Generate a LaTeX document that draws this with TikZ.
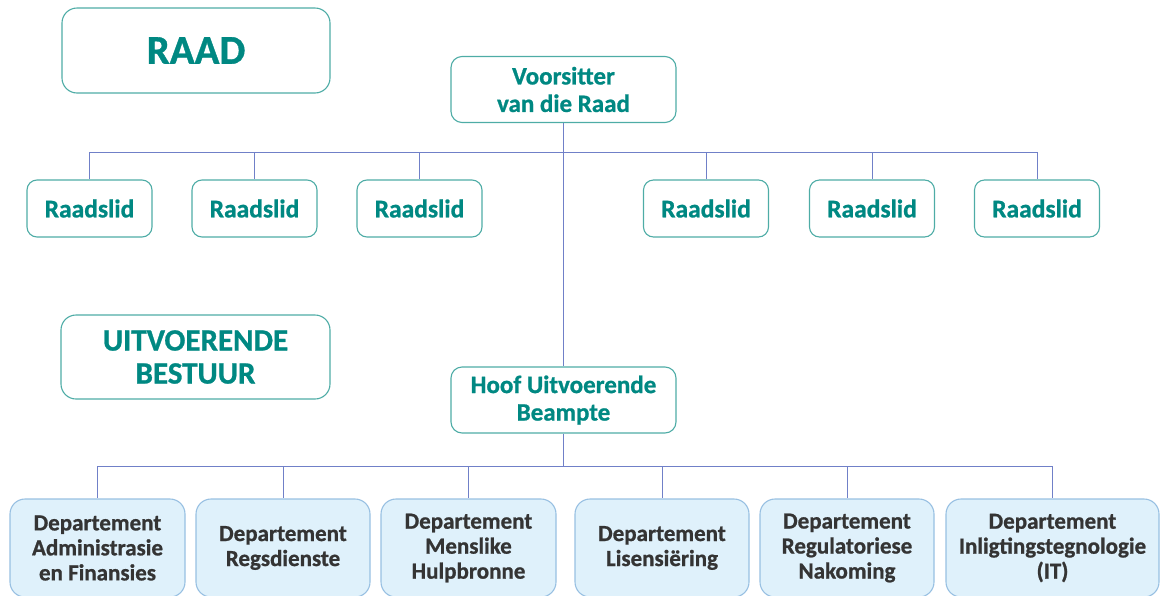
\documentclass[tikz,border=0pt]{standalone}
\usepackage{fontspec}
\setmainfont{Carlito}[BoldFeatures={FakeBold=0.9}]
\usepackage{tikz}
\usetikzlibrary{positioning}
\definecolor{raadteal}{RGB}{0,136,130}
\definecolor{raadedge}{RGB}{78,172,166}
\definecolor{linkblue}{RGB}{112,128,200}
\definecolor{deptfill}{RGB}{223,241,251}
\definecolor{deptedge}{RGB}{152,192,226}
\definecolor{depttext}{RGB}{52,52,52}

\begin{document}
\begin{tikzpicture}[
x=1pt, y=-1pt,
title/.style={draw=raadedge, line width=1.1pt, rounded corners=15pt, text=raadteal, align=center, inner sep=0pt},
chief/.style={draw=raadedge, line width=1.1pt, rounded corners=11pt, text=raadteal, align=center, inner sep=0pt, minimum width=225pt, minimum height=66pt, font=\fontsize{25}{27.5}\selectfont\bfseries},
member/.style={draw=raadedge, line width=1.1pt, rounded corners=10pt, text=raadteal, inner sep=0pt, minimum width=125pt, minimum height=57pt, font=\fontsize{25.5}{27}\selectfont\bfseries},
dept/.style={draw=deptedge, fill=deptfill, line width=1.1pt, rounded corners=15pt, text=depttext, align=center, inner sep=0pt, minimum height=98pt, font=\fontsize{23}{25}\selectfont\bfseries},
link/.style={draw=linkblue, line width=0.9pt}
]
\useasboundingbox (0,0) rectangle (1160,595);

% Raad
\node[title, minimum width=268pt, minimum height=85pt, font=\fontsize{41}{42}\selectfont\bfseries] (raad) at (196,50.5) {RAAD};
\node[chief] (chair) at (563.5,89.5) {Voorsitter\\van die Raad};

\node[member] (r1) at (89.5,208.5) {Raadslid};
\node[member] (r2) at (254.5,208.5) {Raadslid};
\node[member] (r3) at (419.5,208.5) {Raadslid};
\node[member] (r4) at (706,208.5) {Raadslid};
\node[member] (r5) at (872,208.5) {Raadslid};
\node[member] (r6) at (1037,208.5) {Raadslid};

% Uitvoerende bestuur
\node[title, minimum width=269pt, minimum height=84pt, font=\fontsize{31}{33}\selectfont\bfseries] (bestuur) at (195.5,357) {UITVOERENDE\\BESTUUR};
\node[chief] (ceo) at (563.5,400) {Hoof Uitvoerende\\Beampte};

\node[dept, minimum width=175pt] (d1) at (97.5,548) {Departement\\Administrasie\\en Finansies};
\node[dept, minimum width=174pt] (d2) at (283,548) {Departement\\Regsdienste};
\node[dept, minimum width=175pt] (d3) at (468.5,548) {Departement\\Menslike\\Hulpbronne};
\node[dept, minimum width=174pt] (d4) at (662,548) {Departement\\Lisensiëring};
\node[dept, minimum width=174pt] (d5) at (847,548) {Departement\\Regulatoriese\\Nakoming};
\node[dept, minimum width=213pt] (d6) at (1052.5,548) {Departement\\Inligtingstegnologie\\(IT)};

% Connectors
\draw (chair.south) ++(0,29) coordinate (bar1);
\draw (ceo.south) ++(0,33) coordinate (bar2);
\draw[link] (chair.south) -- (ceo.north);
\draw[link] (ceo.south) -- (bar2);
\foreach \n in {1,...,6}
  \draw[link] (bar1) -| (r\n.north);
\foreach \n in {1,...,6}
  \draw[link] (bar2) -| (d\n.north);
\end{tikzpicture}
\end{document}
